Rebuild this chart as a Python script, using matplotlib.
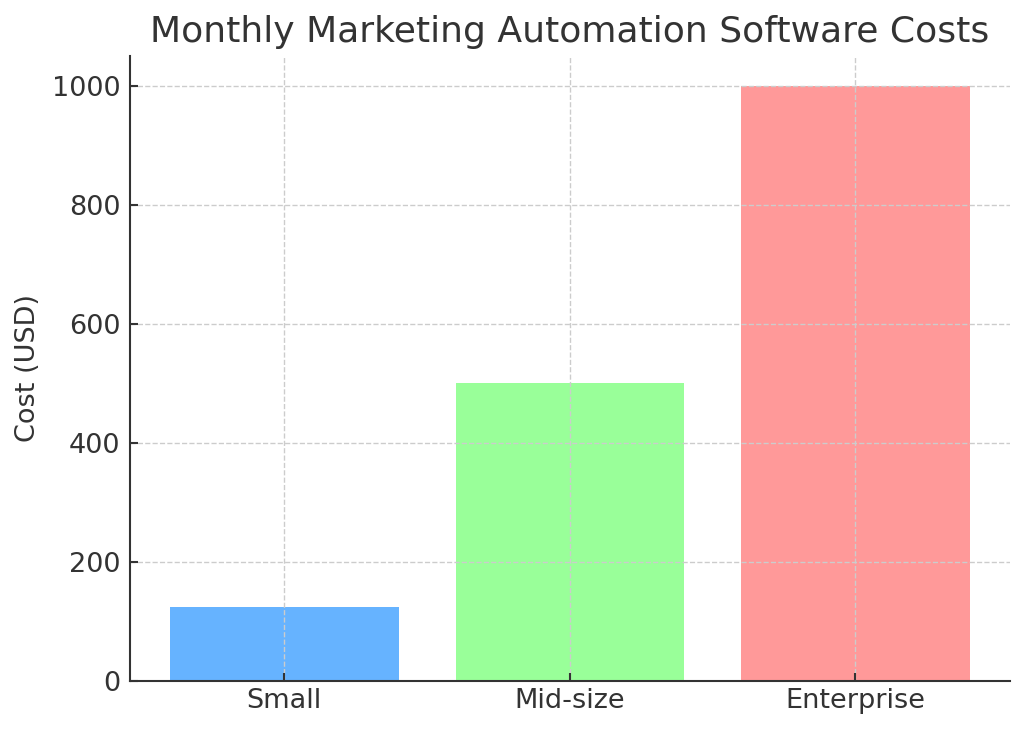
import matplotlib
matplotlib.use("Agg")
import matplotlib.pyplot as plt

# plan tiers and monthly cost
tiers = ["Small", "Mid-size", "Enterprise"]
costs = [125, 500, 1000]
bar_colors = ["#66b3ff", "#99ff99", "#ff9999"]

TEXT = "#333333"

fig = plt.figure(figsize=(10.24, 7.32), dpi=100)
ax = fig.add_axes([0.127, 0.0697, 0.859, 0.8538])

ax.bar(tiers, costs, color=bar_colors, width=0.8)

ax.grid(True, linestyle="--", color="#cccccc", linewidth=1)
ax.spines["top"].set_visible(False)
ax.spines["right"].set_visible(False)
for s in ["left", "bottom"]:
    ax.spines[s].set_color(TEXT)
    ax.spines[s].set_linewidth(1.5)

ax.tick_params(direction="in", length=6, width=1.5, color=TEXT,
               labelsize=19.5, labelcolor=TEXT)
ax.tick_params(axis="y", pad=7)
ax.tick_params(axis="x", pad=5)
ax.set_ylabel("Cost (USD)", fontsize=19.5, color=TEXT, labelpad=8)
ax.set_title("Monthly Marketing Automation Software Costs",
             fontsize=26, color=TEXT, pad=10)

fig.savefig("out.png", dpi=100)
